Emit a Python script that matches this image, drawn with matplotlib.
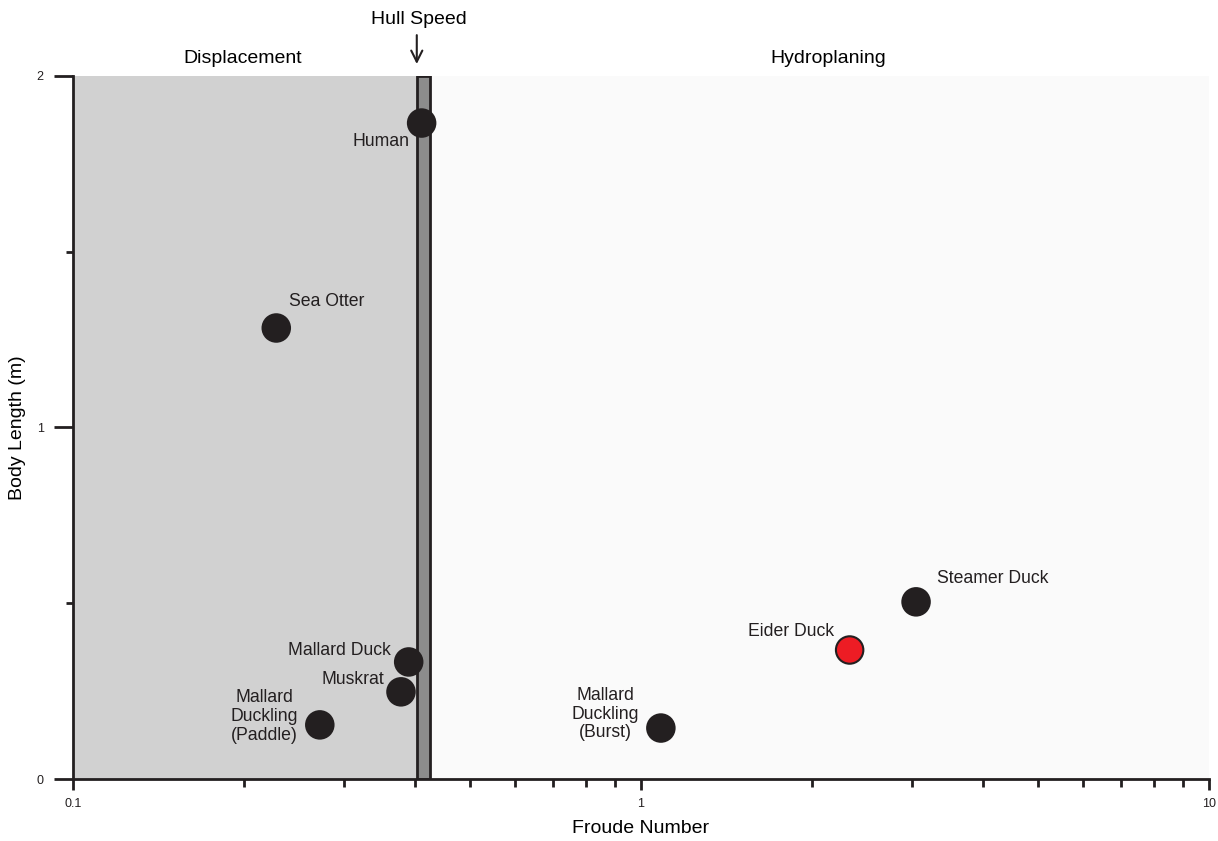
import matplotlib.pyplot as plt
from matplotlib.ticker import FixedLocator, NullFormatter

plt.rcParams['font.family'] = ['Liberation Sans', 'DejaVu Sans']

# data
names = ['Human', 'Sea Otter', 'Mallard Duck', 'Muskrat',
         'Mallard\nDuckling\n(Paddle)', 'Mallard\nDuckling\n(Burst)',
         'Eider Duck', 'Steamer Duck']
froude = [0.411, 0.228, 0.390, 0.378, 0.272, 1.084, 2.33, 3.05]
length = [1.866, 1.283, 0.333, 0.248, 0.154, 0.145, 0.367, 0.504]
colors = ['#231f20'] * 6 + ['#ed1c24', '#231f20']

# label placement (offset in points, alignment)
offsets = [(-9, -13), (9, 19), (-13, 8), (-12, 9), (-40, 6), (-40, 10),
           (-11, 13), (15, 17)]
aligns = ['right', 'left', 'right', 'right', 'center', 'center', 'right', 'left']

hull_lo, hull_hi = 0.403, 0.425
dark = '#231f20'

fig = plt.figure(figsize=(12.18, 8.41), dpi=100)
ax = fig.add_axes([0.0599, 0.0737, 0.9327, 0.836])

ax.set_xscale('log')
ax.set_xlim(0.1, 10)
ax.set_ylim(0, 2)

# regions
ax.axvspan(0.1, hull_lo, color='#d1d1d1', lw=0, zorder=0)
ax.axvspan(hull_hi, 10, color='#fafafa', lw=0, zorder=0)
ax.axvspan(hull_lo, hull_hi, facecolor='#8c8c8c', edgecolor=dark, lw=2, zorder=1)

ax.scatter(froude, length, s=390, c=colors, edgecolors=dark, linewidths=1.5, zorder=3)

for n, x, y, off, ha in zip(names, froude, length, offsets, aligns):
    ax.annotate(n, (x, y), xytext=off, textcoords='offset points',
                ha=ha, va='center', fontsize=12.7, color='#231f20',
                linespacing=1.12, zorder=4)

# region titles and hull speed arrow
xt = ax.get_xaxis_transform()
ax.text(10 ** (-1 + (243 - 73) / 568), 1.025, 'Displacement',
        transform=xt, ha='center', va='center', fontsize=14)
ax.text(10 ** (-1 + (828 - 73) / 568), 1.025, 'Hydroplaning',
        transform=xt, ha='center', va='center', fontsize=14)
ax.annotate('', xy=(hull_lo, 1.013), xytext=(hull_lo, 1.062),
            xycoords=xt, textcoords=xt,
            arrowprops=dict(arrowstyle='->', color=dark, lw=1.5, mutation_scale=20),
            annotation_clip=False)
ax.text(hull_lo * 1.01, 1.08, 'Hull Speed', transform=xt,
        ha='center', va='center', fontsize=14)

# axes styling
for s in ['top', 'right']:
    ax.spines[s].set_visible(False)
for s in ['left', 'bottom']:
    ax.spines[s].set_color(dark)
    ax.spines[s].set_linewidth(2)

ax.yaxis.set_major_locator(FixedLocator([0, 1, 2]))
ax.yaxis.set_minor_locator(FixedLocator([0.5, 1.5]))
ax.set_yticklabels(['0', '1', '2'])
ax.set_xticks([0.1, 1, 10])
ax.set_xticklabels(['0.1', '1', '10'])
ax.xaxis.set_minor_formatter(NullFormatter())

ax.tick_params(axis='y', which='major', length=14, width=2, color=dark,
               labelsize=9, pad=7, labelcolor='#231f20')
ax.tick_params(axis='y', which='minor', length=5, width=2, color=dark)
ax.tick_params(axis='x', which='major', length=8, width=2, color=dark,
               labelsize=9, pad=6, labelcolor='#231f20')
ax.tick_params(axis='x', which='minor', length=5.5, width=2, color=dark)

ax.set_xlabel('Froude Number', fontsize=14)
ax.set_ylabel('Body Length (m)', fontsize=14)
ax.xaxis.set_label_coords((641 - 73) / 1136, -(828 - 779) / 703)
ax.yaxis.set_label_coords(-(18 - 73) / -1136, 0.5)
ax.yaxis.label.set_verticalalignment('center')
ax.xaxis.label.set_verticalalignment('center')

fig.savefig('out.png', dpi=100)
